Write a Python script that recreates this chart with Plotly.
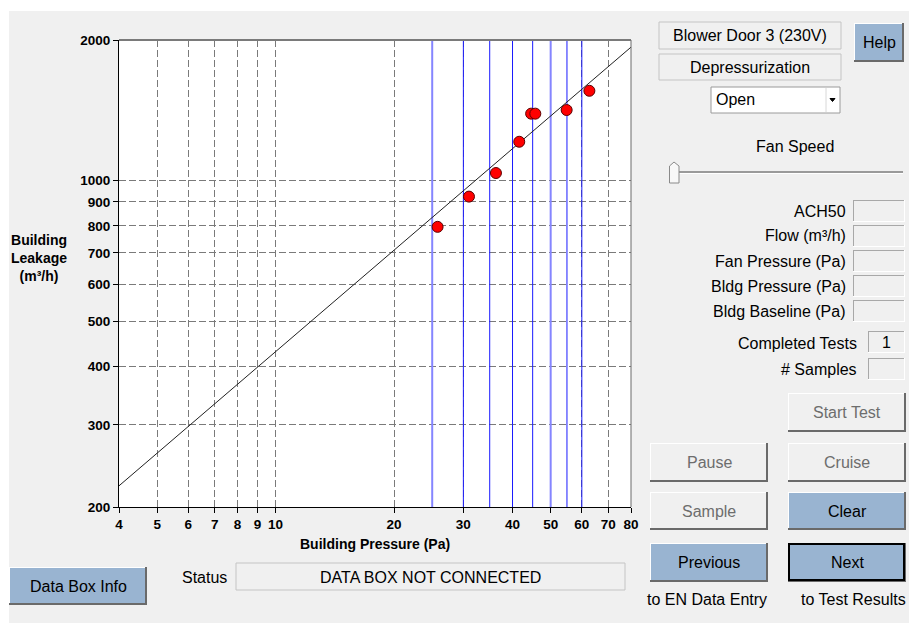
import math
import plotly.graph_objects as go

# ---------------- data ----------------
pressure_pa = [25.8, 31.0, 36.3, 41.6, 44.6, 45.7, 54.9, 62.7]
leakage_m3h = [796, 924, 1038, 1211, 1391, 1391, 1416, 1557]
target_pressures = [25, 30, 35, 40, 45, 50, 55, 60]
highlight_targets = [25, 50]
fit_C = 81.6
fit_n = 0.722
x_ticks = [4, 5, 6, 7, 8, 9, 10, 20, 30, 40, 50, 60, 70, 80]
y_ticks = [200, 300, 400, 500, 600, 700, 800, 900, 1000, 2000]
x_range = [4, 80]
y_range = [200, 2000]

FONT = "Arial, Liberation Sans, sans-serif"
W, H = 909, 623
L, R, T, B = 119, 631, 40, 507


def fx(X):
    return (X - L) / (R - L)


def fy(Y):
    return (B - Y) / (B - T)


shapes = []
anns = []


def rect(x0, y0, x1, y1, fill, line=None, lw=1):
    shapes.append(dict(type="rect", xref="paper", yref="paper",
                       x0=fx(x0), x1=fx(x1), y0=fy(y1), y1=fy(y0),
                       fillcolor=fill,
                       line=dict(color=line if line else fill, width=lw if line else 0),
                       layer="above"))


def seg(x0, y0, x1, y1, color, w=1):
    shapes.append(dict(type="line", xref="paper", yref="paper",
                       x0=fx(x0), x1=fx(x1), y0=fy(y0), y1=fy(y1),
                       line=dict(color=color, width=w), layer="above"))


def poly(pts, fill, line):
    d = "M " + " L ".join(f"{fx(a)},{fy(b)}" for a, b in pts) + " Z"
    shapes.append(dict(type="path", xref="paper", yref="paper", path=d,
                       fillcolor=fill, line=dict(color=line, width=1), layer="above"))


def text(X, Y, s, size=16, color="#000000", anchor="center", bold=False):
    anns.append(dict(xref="paper", yref="paper", x=fx(X), y=fy(Y), text=s,
                     showarrow=False, xanchor=anchor, yanchor="middle",
                     font=dict(size=size, color=color, family=FONT,
                               weight="bold" if bold else "normal")))


def button(x0, y0, x1, y1, label, fill, tcolor, border=False):
    rect(x0, y0, x1, y1, fill)
    seg(x0, y0 + 0.5, x1, y0 + 0.5, "#ffffff", 1)
    seg(x0 + 0.5, y0, x0 + 0.5, y1, "#ffffff", 1)
    seg(x0, y1 - 1, x1, y1 - 1, "#6a6a6a", 2)
    seg(x1 - 1, y0, x1 - 1, y1, "#6a6a6a", 2)
    if border:
        rect(x0 + 1, y0 + 1, x1 - 2, y1 - 2, "rgba(0,0,0,0)", "#000000", 2)
    text((x0 + x1) / 2, (y0 + y1) / 2, label, 16, tcolor)


def field(x0, y0, x1, y1):
    rect(x0, y0, x1, y1, "#f0f0f0")
    seg(x0, y0 + 0.5, x1, y0 + 0.5, "#a8a8a8", 1)
    seg(x0 + 0.5, y0, x0 + 0.5, y1, "#a8a8a8", 1)
    seg(x0, y1 - 0.5, x1, y1 - 0.5, "#ffffff", 1)
    seg(x1 - 0.5, y0, x1 - 0.5, y1, "#ffffff", 1)


# ---------------- traces ----------------
fig = go.Figure()

for p in target_pressures:
    hl = p in highlight_targets
    fig.add_trace(go.Scatter(x=[p, p], y=y_range, mode="lines",
                             line=dict(color="#8585ff" if hl else "#1a1aff",
                                       width=2 if hl else 1),
                             hoverinfo="skip", showlegend=False))

fit_x = x_range
fit_y = [fit_C * v ** fit_n for v in fit_x]
fig.add_trace(go.Scatter(x=fit_x, y=fit_y, mode="lines",
                         line=dict(color="#202020", width=1),
                         hoverinfo="skip", showlegend=False))

fig.add_trace(go.Scatter(x=pressure_pa, y=leakage_m3h, mode="markers",
                         marker=dict(size=11, color="#ff0000",
                                     line=dict(color="#5a0000", width=1)),
                         showlegend=False))

# ---------------- chrome ----------------
# white outer strips
rect(0, 0, W, 11, "#ffffff")
rect(0, 0, 9, H, "#ffffff")

# plot border top/right
seg(L, T, R, T, "#7a7a7a", 2)
seg(R, T, R, B, "#6a6a6a", 1)

# axis titles
text(375, 544, "Building Pressure (Pa)", 14, bold=True)
text(39, 258, "Building<br>Leakage<br>(m³/h)", 14, bold=True)

# top right info boxes
rect(659, 22, 841, 49, "#f0f0f0", "#c4c4c4", 1)
text(750, 35.5, "Blower Door 3 (230V)", 16)
rect(659, 54, 841, 80, "#f0f0f0", "#c4c4c4", 1)
text(750, 67, "Depressurization", 16)
button(854, 23, 904, 62, "Help", "#99b4d1", "#000000")

# dropdown
rect(711, 87, 840, 113, "#ffffff", "#9a9a9a", 1)
seg(826, 88, 826, 112, "#d8d8d8", 1)
text(714, 100, "Open", 16, anchor="left")
poly([(830, 98.5), (835, 98.5), (832.5, 101.5)], "#000000", "#000000")

# fan speed slider
text(795, 146, "Fan Speed", 16)
seg(678, 172, 903, 172, "#9a9a9a", 2)
seg(678, 173.5, 903, 173.5, "#ffffff", 1)
poly([(669.5, 183), (669.5, 166), (674, 162), (679, 166), (679, 183)], "#f8f8f8", "#8a8a8a")

# readouts
labels = ["ACH50", "Flow (m³/h)", "Fan Pressure (Pa)", "Bldg Pressure (Pa)", "Bldg Baseline (Pa)"]
rows = [(200, 222), (225, 247), (250, 272), (275, 297), (300, 322)]
for lab, (a, b) in zip(labels, rows):
    text(848, (a + b) / 2, lab, 16, anchor="right")
    field(853, a, 905, b)

text(859, 343, "Completed Tests", 16, anchor="right")
field(868, 331, 905, 353)
text(886.5, 342, "1", 16)
text(859, 369, "# Samples", 16, anchor="right")
field(868, 358, 905, 380)

# buttons
button(788, 393, 906, 432, "Start Test", "#f0f0f0", "#6d6d6d")
button(650, 443, 768, 482, "Pause", "#f0f0f0", "#6d6d6d")
button(788, 443, 906, 482, "Cruise", "#f0f0f0", "#6d6d6d")
button(650, 492, 768, 530, "Sample", "#f0f0f0", "#6d6d6d")
button(788, 492, 906, 530, "Clear", "#99b4d1", "#000000")
button(650, 543, 768, 582, "Previous", "#99b4d1", "#000000")
button(788, 543, 906, 582, "Next", "#99b4d1", "#000000", border=True)
text(707, 599, "to EN Data Entry", 16)
text(853, 599, "to Test Results", 16)

# bottom status
button(9, 567, 147, 605, "Data Box Info", "#99b4d1", "#000000")
text(204, 577, "Status", 16)
rect(236, 563, 625, 590, "#f0f0f0", "#c4c4c4", 1)
text(430, 577, "DATA BOX NOT CONNECTED", 16)

grid_dash = "7px,3px"
fig.update_layout(
    width=W, height=H,
    margin=dict(l=L, r=W - R, t=T, b=H - B, pad=0),
    paper_bgcolor="#f0f0f0", plot_bgcolor="#ffffff",
    showlegend=False,
    shapes=shapes, annotations=anns,
    font=dict(family=FONT, color="#000000"),
    xaxis=dict(type="log", range=[math.log10(x_range[0]), math.log10(x_range[1])],
               tickvals=x_ticks, ticktext=[str(v) for v in x_ticks],
               showgrid=True, gridcolor="#7a7a7a", griddash=grid_dash, gridwidth=1,
               showline=True, linecolor="#000000", linewidth=1,
               ticks="outside", ticklen=5, tickcolor="#000000",
               tickfont=dict(size=13.5, weight="bold", family=FONT),
               zeroline=False),
    yaxis=dict(type="log", range=[math.log10(y_range[0]), math.log10(y_range[1])],
               tickvals=y_ticks, ticktext=[str(v) for v in y_ticks],
               showgrid=True, gridcolor="#7a7a7a", griddash=grid_dash, gridwidth=1,
               showline=True, linecolor="#000000", linewidth=1,
               ticks="outside", ticklen=5, tickcolor="#000000",
               tickfont=dict(size=13.5, weight="bold", family=FONT),
               zeroline=False),
)

fig.write_html("out.html")
